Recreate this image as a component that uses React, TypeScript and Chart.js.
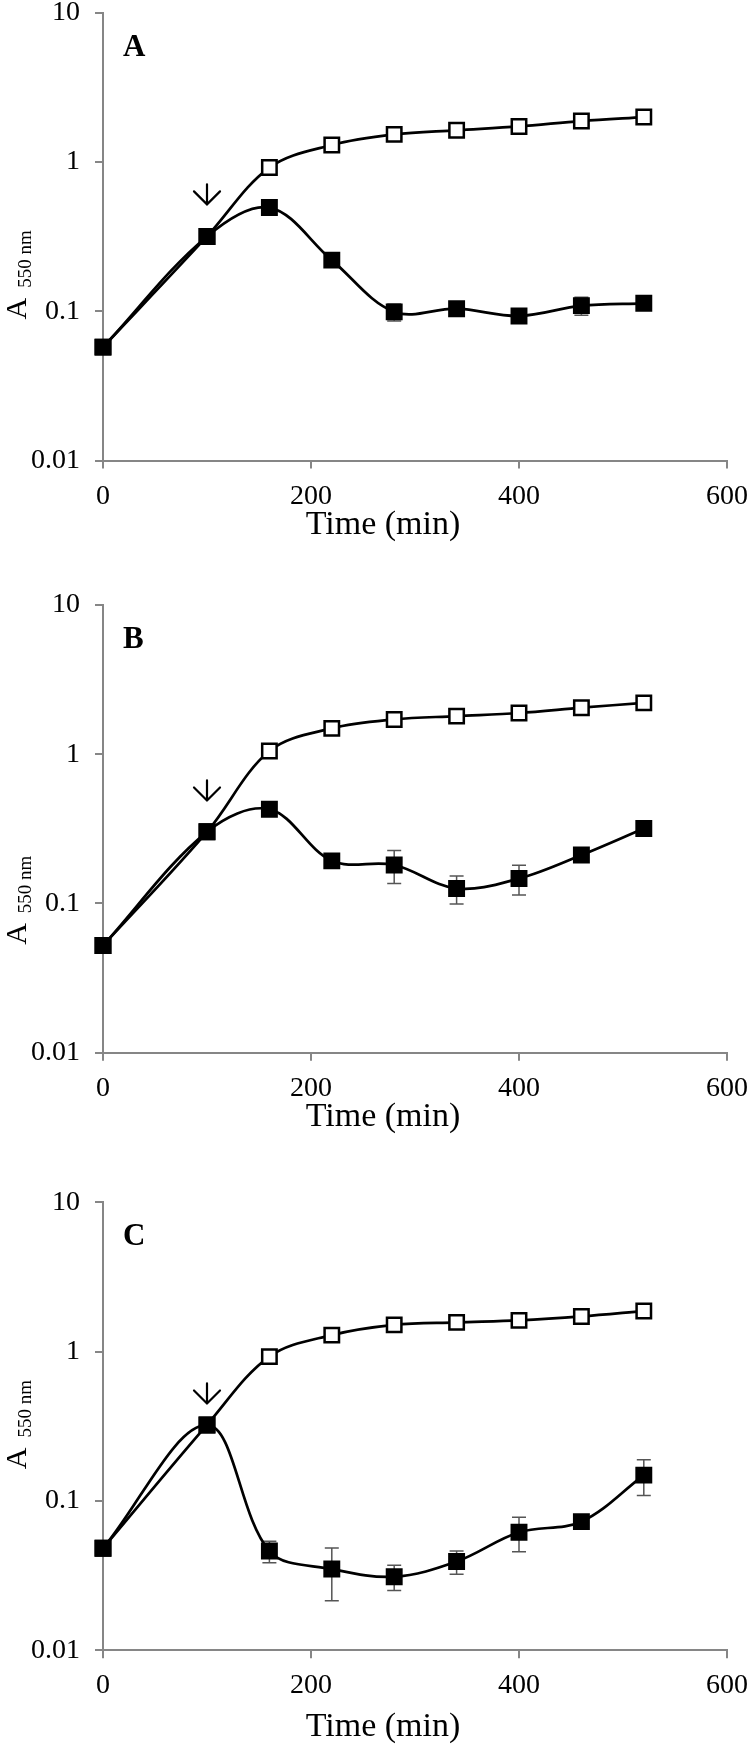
import React, { useEffect, useRef } from 'react';
import { Chart, registerables } from 'chart.js';

Chart.register(...registerables);

// ---------------- data ----------------
const times = [0, 100, 160, 220, 280, 340, 400, 460, 520];
const xTickValues = [0, 200, 400, 600];
const xTickLabels = ['0', '200', '400', '600'];
const yTickValues = [0.01, 0.1, 1, 10];
const yTickLabels = ['0.01', '0.1', '1', '10'];

const controlA = [0.0575, 0.317, 0.917, 1.3, 1.53, 1.63, 1.73, 1.88, 2.0];
const treatedA = [0.0575, 0.317, 0.495, 0.22, 0.099, 0.104, 0.093, 0.109, 0.113];
const treatedErrA = [0, 0, 0, 0, 0.013, 0, 0, 0.015, 0];

const controlB = [0.0523, 0.302, 1.05, 1.49, 1.71, 1.8, 1.89, 2.05, 2.21];
const treatedB = [0.0523, 0.302, 0.428, 0.193, 0.181, 0.126, 0.147, 0.211, 0.318];
const treatedErrB = [0, 0, 0, 0, 0.045, 0.027, 0.033, 0, 0];

const controlC = [0.0482, 0.323, 0.926, 1.29, 1.51, 1.57, 1.62, 1.72, 1.87];
const treatedC = [0.0482, 0.323, 0.0462, 0.035, 0.0311, 0.0393, 0.0617, 0.0727, 0.149];
const treatedErrC = [0, 0, 0.0076, 0.0135, 0.006, 0.007, 0.016, 0, 0.04];

const panelLetters = ['A', 'B', 'C'];
const arrowTime = 100;
const arrowTips = [0.52, 0.49, 0.45];

const xTitle = 'Time (min)';
const yTitleMain = 'A';
const yTitleSub = '550 nm';

const controls = [controlA, controlB, controlC];
const treateds = [treatedA, treatedB, treatedC];
const errs = [treatedErrA, treatedErrB, treatedErrC];

// ---------------- layout ----------------
const FONT = '"Liberation Serif", "Times New Roman", serif';
const AXIS_GRAY = '#868686';
const layouts = [
  { top: 0, height: 560, areaTop: 12, areaBottom: 460.5, xTitleDy: 64.5, yTitleOffset: 296 },
  { top: 560, height: 580, areaTop: 45, areaBottom: 492.7, xTitleDy: 64.3, yTitleOffset: 329 },
  { top: 1140, height: 609, areaTop: 62.3, areaBottom: 510.3, xTitleDy: 77, yTitleOffset: 256 },
];
const AREA_LEFT = 103;
const AREA_RIGHT = 727;
const X_TITLE_CENTER = 383;

function makeDecor(idx: number) {
  return {
    id: 'decor' + idx,
    beforeDatasetsDraw(chart: any) {
      const { ctx, scales } = chart;
      const x = scales.x;
      const y = scales.y;
      const vals = treateds[idx];
      const e = errs[idx];
      ctx.save();
      ctx.strokeStyle = '#555555';
      ctx.lineWidth = 1.5;
      times.forEach((t, i) => {
        if (!e[i]) return;
        const px = x.getPixelForValue(t);
        const y1 = y.getPixelForValue(vals[i] + e[i]);
        const y2 = y.getPixelForValue(vals[i] - e[i]);
        ctx.beginPath();
        ctx.moveTo(px, y1);
        ctx.lineTo(px, y2);
        ctx.moveTo(px - 7, y1);
        ctx.lineTo(px + 7, y1);
        ctx.moveTo(px - 7, y2);
        ctx.lineTo(px + 7, y2);
        ctx.stroke();
      });
      ctx.restore();
    },
    afterDraw(chart: any) {
      const { ctx, scales, chartArea } = chart;
      const x = scales.x;
      const y = scales.y;
      const L = layouts[idx];
      ctx.save();
      ctx.fillStyle = '#000';

      // panel letter
      ctx.font = 'bold 31px ' + FONT;
      ctx.textAlign = 'left';
      ctx.textBaseline = 'alphabetic';
      ctx.fillText(panelLetters[idx], chartArea.left + 20, chartArea.top + 43);

      // x axis title
      ctx.font = '34px ' + FONT;
      ctx.textAlign = 'center';
      ctx.textBaseline = 'middle';
      ctx.fillText(xTitle, X_TITLE_CENTER, chartArea.bottom + L.xTitleDy);

      // arrow
      const ax = x.getPixelForValue(arrowTime);
      const ay = y.getPixelForValue(arrowTips[idx]);
      ctx.strokeStyle = '#000';
      ctx.lineWidth = 2.2;
      ctx.lineCap = 'round';
      ctx.beginPath();
      ctx.moveTo(ax, ay - 20);
      ctx.lineTo(ax, ay);
      ctx.moveTo(ax - 13, ay - 13);
      ctx.lineTo(ax, ay);
      ctx.lineTo(ax + 13, ay - 13);
      ctx.stroke();

      // y axis title with subscript
      const cy = chartArea.top + L.yTitleOffset;
      ctx.textAlign = 'left';
      ctx.textBaseline = 'alphabetic';
      ctx.font = '30px ' + FONT;
      const wA = ctx.measureText(yTitleMain).width;
      ctx.translate(26, cy + wA / 2);
      ctx.rotate(-Math.PI / 2);
      ctx.fillText(yTitleMain, 0, 0);
      ctx.font = '19px ' + FONT;
      ctx.fillText(yTitleSub, wA + 10, 5);
      ctx.restore();
    },
  };
}

function Panel({ idx }: { idx: number }) {
  const ref = useRef<HTMLCanvasElement | null>(null);
  const L = layouts[idx];
  useEffect(() => {
    if (!ref.current) return;
    const tickFont = { family: FONT, size: 28 };
    const chart = new Chart(ref.current, {
      type: 'line',
      data: {
        labels: times,
        datasets: [
          {
            label: 'treated',
            data: times.map((t, i) => ({ x: t, y: treateds[idx][i] })),
            borderColor: '#000',
            borderWidth: 2.7,
            backgroundColor: '#000',
            pointStyle: 'rect',
            pointRadius: 10.2,
            pointBorderWidth: 2.5,
            pointBorderColor: '#000',
            pointBackgroundColor: '#000',
            tension: 0.35,
            clip: false,
          },
          {
            label: 'control',
            data: times.map((t, i) => ({ x: t, y: controls[idx][i] })),
            borderColor: '#000',
            borderWidth: 2.7,
            backgroundColor: '#fff',
            pointStyle: 'rect',
            pointRadius: 10.2,
            pointBorderWidth: 2.5,
            pointBorderColor: '#000',
            pointBackgroundColor: '#fff',
            tension: 0.35,
            clip: false,
          },
        ],
      } as any,
      options: {
        responsive: false,
        animation: false,
        events: [],
        layout: { padding: { top: L.areaTop, left: 0, right: 750 - AREA_RIGHT, bottom: 0 } },
        plugins: {
          legend: { display: false },
          tooltip: { enabled: false },
        },
        scales: {
          x: {
            type: 'linear',
            min: 0,
            max: 600,
            afterBuildTicks: (s: any) => {
              s.ticks = xTickValues.map((v) => ({ value: v }));
            },
            afterFit: (s: any) => {
              s.height = L.height - L.areaBottom;
              s.paddingLeft = 0;
              s.paddingRight = 0;
            },
            ticks: {
              font: tickFont,
              color: '#000',
              padding: 11,
              maxRotation: 0,
              autoSkip: false,
              callback: (v: any) => {
                const i = xTickValues.indexOf(Number(v));
                return i >= 0 ? xTickLabels[i] : '';
              },
            },
            grid: {
              display: true,
              drawOnChartArea: false,
              drawTicks: true,
              tickLength: 8,
              color: AXIS_GRAY,
              lineWidth: 2,
            },
            border: { display: true, color: AXIS_GRAY, width: 2 },
            title: { display: false },
          },
          y: {
            type: 'logarithmic',
            min: 0.01,
            max: 10,
            afterBuildTicks: (s: any) => {
              s.ticks = yTickValues.map((v) => ({ value: v }));
            },
            afterFit: (s: any) => {
              s.width = AREA_LEFT;
              s.paddingTop = 0;
              s.paddingBottom = 0;
            },
            ticks: {
              font: tickFont,
              color: '#000',
              padding: 15,
              autoSkip: false,
              callback: (v: any) => {
                const n = Number(v);
                const i = yTickValues.findIndex((t) => Math.abs(t - n) / t < 1e-6);
                return i >= 0 ? yTickLabels[i] : '';
              },
            },
            grid: {
              display: true,
              drawOnChartArea: false,
              drawTicks: true,
              tickLength: 8,
              color: AXIS_GRAY,
              lineWidth: 2,
            },
            border: { display: true, color: AXIS_GRAY, width: 2 },
          },
        },
      } as any,
      plugins: [makeDecor(idx)],
    });
    return () => chart.destroy();
  }, [idx]);
  return (
    <canvas
      ref={ref}
      width={750}
      height={L.height}
      style={{ position: 'absolute', left: 0, top: L.top, width: 750, height: L.height }}
    />
  );
}

export default function App() {
  useEffect(() => {
    document.body.style.margin = '0';
  }, []);
  return (
    <div style={{ position: 'relative', width: 750, height: 1749, background: '#fff' }}>
      {[0, 1, 2].map((i) => (
        <Panel key={i} idx={i} />
      ))}
    </div>
  );
}
